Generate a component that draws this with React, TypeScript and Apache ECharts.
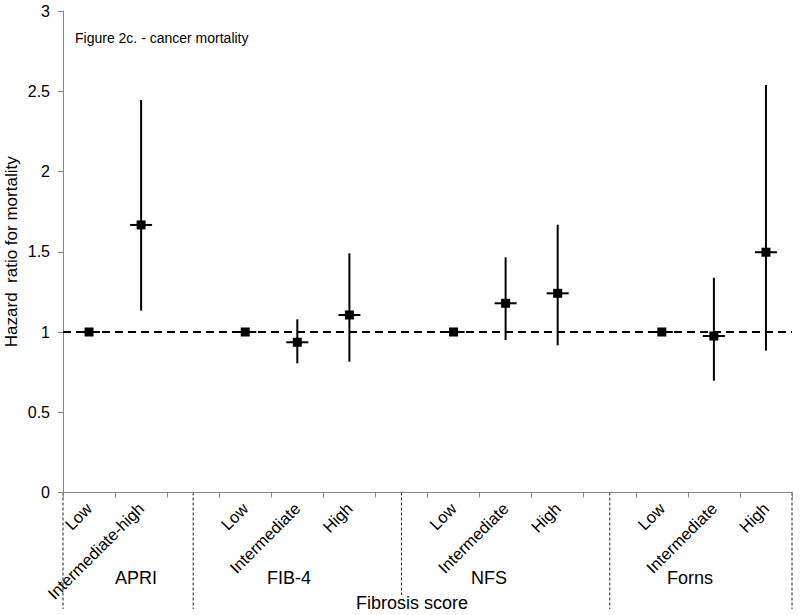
import React, { useEffect, useRef } from "react";
import * as echarts from "echarts";

// ---- data ----
const categories = [
  "Low", "Intermediate-high", "",
  "Low", "Intermediate", "High", "",
  "Low", "Intermediate", "High", "",
  "Low", "Intermediate", "High",
];
const hazardRatio = [1, 1.667, null, 1, 0.936, 1.106, null, 1, 1.179, 1.241, null, 1, 0.975, 1.497];
const ciLower = [1, 1.133, null, 1, 0.805, 0.815, null, 1, 0.95, 0.917, null, 1, 0.697, 0.884];
const ciUpper = [1, 2.445, null, 1, 1.079, 1.49, null, 1, 1.465, 1.669, null, 1, 1.338, 2.539];
const groupNames = ["APRI", "FIB-4", "NFS", "Forns"];
// category positions of the dashed group separators (edges and blank slots)
const groupSeparators = [-0.5, 2, 6, 10, 13.5];
const yTicks = [0, 0.5, 1, 1.5, 2, 2.5, 3];
const referenceHR = 1;

// ---- layout (not data) ----
const groupLabelPos = [0.9, 3.84, 7.68, 11.54];
const FONT = "Liberation Sans, Arial, sans-serif";

export default function App() {
  const ref = useRef<HTMLDivElement>(null);
  useEffect(() => {
    if (!ref.current) return;
    const chart = echarts.init(ref.current, null, { renderer: "svg" });
    const points = categories
      .map((_, i) => (hazardRatio[i] == null ? null : [i, hazardRatio[i], ciLower[i], ciUpper[i]]))
      .filter((d) => d !== null);

    chart.setOption({
      animation: false,
      backgroundColor: "#fff",
      textStyle: { fontFamily: FONT },
      grid: { left: 63, top: 11, width: 729, height: 481.5, containLabel: false, outerBoundsMode: "none" },
      xAxis: {
        type: "category",
        data: categories,
        boundaryGap: true,
        axisLine: { lineStyle: { color: "#868686", width: 1 } },
        axisTick: { show: true, interval: 0, length: 5, lineStyle: { color: "#868686" } },
        axisLabel: { interval: 0, rotate: 45, fontSize: 16.5, color: "#000", margin: 13, fontFamily: FONT },
        splitLine: { show: false },
      },
      yAxis: {
        type: "value",
        min: yTicks[0],
        max: yTicks[yTicks.length - 1],
        interval: yTicks[1] - yTicks[0],
        name: "Hazard  ratio for mortality",
        nameLocation: "middle",
        nameRotate: 90,
        nameGap: 43,
        nameMoveOverlap: false,
        nameTextStyle: { fontSize: 17, color: "#000", fontFamily: FONT },
        axisLine: { show: true, lineStyle: { color: "#868686", width: 1 } },
        axisTick: { show: true, length: 5, lineStyle: { color: "#868686" } },
        axisLabel: { fontSize: 16, color: "#000", margin: 13, fontFamily: FONT },
        splitLine: { show: false },
      },
      series: [
        {
          type: "line",
          data: [],
          markLine: {
            silent: true,
            symbol: "none",
            label: { show: false },
            lineStyle: { color: "#000", width: 2, type: [8, 5] },
            data: [{ yAxis: referenceHR }],
          },
        },
        {
          type: "custom",
          data: points,
          encode: { x: 0, y: 1 },
          renderItem: (params: any, api: any) => {
            const idx = api.value(0);
            const p = api.coord([idx, api.value(1)]);
            const lo = api.coord([idx, api.value(2)]);
            const hi = api.coord([idx, api.value(3)]);
            const half = 11;
            const m = 4.5;
            return {
              type: "group",
              children: [
                {
                  type: "line",
                  shape: { x1: p[0], y1: hi[1], x2: p[0], y2: lo[1] },
                  style: { stroke: "#000", lineWidth: 2 },
                },
                {
                  type: "line",
                  shape: { x1: p[0] - half, y1: p[1], x2: p[0] + half, y2: p[1] },
                  style: { stroke: "#000", lineWidth: 2 },
                },
                {
                  type: "rect",
                  shape: { x: p[0] - m, y: p[1] - m, width: 2 * m, height: 2 * m },
                  style: { fill: "#000" },
                },
              ],
            };
          },
        },
      ],
    });

    const x0 = chart.convertToPixel({ xAxisIndex: 0 }, 0) as number;
    const x1 = chart.convertToPixel({ xAxisIndex: 0 }, 1) as number;
    const band = x1 - x0;
    const catX = (c: number) => x0 + c * band;
    const axisY = chart.convertToPixel({ yAxisIndex: 0 }, 0) as number;

    const graphics: any[] = [];
    groupSeparators.forEach((c, i) => {
      const endY = i === 2 ? 595 : 609;
      graphics.push({
        type: "line",
        shape: { x1: catX(c), y1: axisY, x2: catX(c), y2: endY },
        style: { stroke: "#222", lineWidth: 1, lineDash: [3, 2] },
      });
    });
    groupNames.forEach((g, i) => {
      graphics.push({
        type: "text",
        x: catX(groupLabelPos[i]),
        y: 578,
        style: { text: g, fontSize: 18, fill: "#000", align: "center", verticalAlign: "middle", fontFamily: FONT },
      });
    });
    graphics.push({
      type: "text",
      x: 412,
      y: 603,
      style: { text: "Fibrosis score", fontSize: 18, fill: "#000", align: "center", verticalAlign: "middle", fontFamily: FONT },
    });
    graphics.push({
      type: "text",
      x: 75,
      y: 38,
      style: { text: "Figure 2c. - cancer mortality", fontSize: 14, fill: "#000", align: "left", verticalAlign: "middle", fontFamily: FONT },
    });
    chart.setOption({ graphic: graphics });

    return () => chart.dispose();
  }, []);
  return <div ref={ref} style={{ width: 800, height: 615, position: "absolute", left: 0, top: 0 }} />;
}
